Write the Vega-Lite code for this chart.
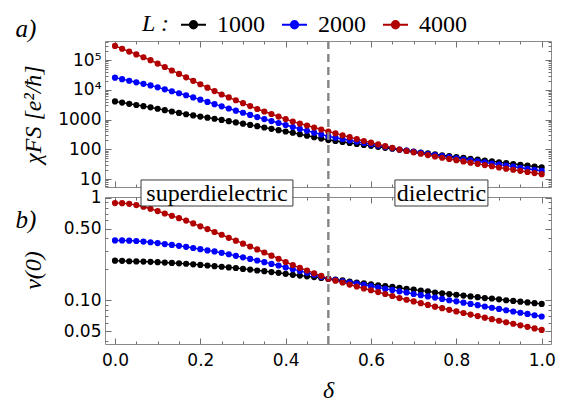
{
"$schema": "https://vega.github.io/schema/vega-lite/v6.json",
"padding": {"left": 15, "top": 11, "right": 6, "bottom": 2},
"spacing": 10,
"bounds": "flush",
"background": "white",
"config": {
  "view": {"stroke": "#8a8a8a", "strokeWidth": 1},
  "axis": {"domain": false, "grid": false, "tickColor": "#707070", "tickWidth": 1, "labelFont": "DejaVu Sans", "labelFontSize": 17, "labelColor": "#000000", "labelFlush": false, "labelOverlap": false, "labelBound": false, "titleFont": "Liberation Serif", "titleFontStyle": "italic", "titleFontWeight": "normal", "titleFontSize": 24, "titleColor": "#000000"}
},
"datasets": {"d": [
{"x":0,"L":"1000","chi":4083,"nu":0.243},
{"x":0.0167,"L":"1000","chi":3724,"nu":0.242},
{"x":0.0333,"L":"1000","chi":3396,"nu":0.240},
{"x":0.05,"L":"1000","chi":3097,"nu":0.239},
{"x":0.0667,"L":"1000","chi":2825,"nu":0.238},
{"x":0.0833,"L":"1000","chi":2576,"nu":0.237},
{"x":0.1,"L":"1000","chi":2312,"nu":0.235},
{"x":0.1167,"L":"1000","chi":2080,"nu":0.233},
{"x":0.1333,"L":"1000","chi":1866,"nu":0.231},
{"x":0.15,"L":"1000","chi":1679,"nu":0.229},
{"x":0.1667,"L":"1000","chi":1507,"nu":0.227},
{"x":0.1833,"L":"1000","chi":1380,"nu":0.224},
{"x":0.2,"L":"1000","chi":1265,"nu":0.221},
{"x":0.2167,"L":"1000","chi":1161,"nu":0.218},
{"x":0.2333,"L":"1000","chi":1064,"nu":0.215},
{"x":0.25,"L":"1000","chi":975,"nu":0.212},
{"x":0.2667,"L":"1000","chi":885,"nu":0.209},
{"x":0.2833,"L":"1000","chi":804,"nu":0.206},
{"x":0.3,"L":"1000","chi":728,"nu":0.202},
{"x":0.3167,"L":"1000","chi":661,"nu":0.199},
{"x":0.3333,"L":"1000","chi":600,"nu":0.195},
{"x":0.35,"L":"1000","chi":542,"nu":0.192},
{"x":0.3667,"L":"1000","chi":489,"nu":0.188},
{"x":0.3833,"L":"1000","chi":442,"nu":0.185},
{"x":0.4,"L":"1000","chi":398,"nu":0.181},
{"x":0.4167,"L":"1000","chi":360,"nu":0.177},
{"x":0.4333,"L":"1000","chi":321,"nu":0.174},
{"x":0.45,"L":"1000","chi":287,"nu":0.171},
{"x":0.4667,"L":"1000","chi":256,"nu":0.168},
{"x":0.4833,"L":"1000","chi":229,"nu":0.165},
{"x":0.5,"L":"1000","chi":205,"nu":0.162},
{"x":0.5167,"L":"1000","chi":190,"nu":0.159},
{"x":0.5333,"L":"1000","chi":176,"nu":0.156},
{"x":0.55,"L":"1000","chi":164,"nu":0.152},
{"x":0.5667,"L":"1000","chi":152,"nu":0.149},
{"x":0.5833,"L":"1000","chi":141,"nu":0.146},
{"x":0.6,"L":"1000","chi":131,"nu":0.143},
{"x":0.6167,"L":"1000","chi":121,"nu":0.140},
{"x":0.6333,"L":"1000","chi":112.5,"nu":0.137},
{"x":0.65,"L":"1000","chi":104.5,"nu":0.135},
{"x":0.6667,"L":"1000","chi":96.8,"nu":0.132},
{"x":0.6833,"L":"1000","chi":90.2,"nu":0.129},
{"x":0.7,"L":"1000","chi":83.9,"nu":0.127},
{"x":0.7167,"L":"1000","chi":78.0,"nu":0.124},
{"x":0.7333,"L":"1000","chi":72.6,"nu":0.122},
{"x":0.75,"L":"1000","chi":67.6,"nu":0.119},
{"x":0.7667,"L":"1000","chi":63.1,"nu":0.117},
{"x":0.7833,"L":"1000","chi":58.9,"nu":0.115},
{"x":0.8,"L":"1000","chi":55.0,"nu":0.113},
{"x":0.8167,"L":"1000","chi":51.3,"nu":0.111},
{"x":0.8333,"L":"1000","chi":47.9,"nu":0.109},
{"x":0.85,"L":"1000","chi":44.8,"nu":0.107},
{"x":0.8667,"L":"1000","chi":41.9,"nu":0.105},
{"x":0.8833,"L":"1000","chi":39.2,"nu":0.104},
{"x":0.9,"L":"1000","chi":36.6,"nu":0.102},
{"x":0.9167,"L":"1000","chi":34.3,"nu":0.100},
{"x":0.9333,"L":"1000","chi":32.1,"nu":0.0984},
{"x":0.95,"L":"1000","chi":30.1,"nu":0.0968},
{"x":0.9667,"L":"1000","chi":28.2,"nu":0.0951},
{"x":0.9833,"L":"1000","chi":26.4,"nu":0.0935},
{"x":1,"L":"1000","chi":24.8,"nu":0.0920},
{"x":0,"L":"2000","chi":25770,"nu":0.383},
{"x":0.0167,"L":"2000","chi":22860,"nu":0.383},
{"x":0.0333,"L":"2000","chi":20280,"nu":0.381},
{"x":0.05,"L":"2000","chi":17950,"nu":0.378},
{"x":0.0667,"L":"2000","chi":15920,"nu":0.373},
{"x":0.0833,"L":"2000","chi":14130,"nu":0.368},
{"x":0.1,"L":"2000","chi":12130,"nu":0.361},
{"x":0.1167,"L":"2000","chi":10420,"nu":0.353},
{"x":0.1333,"L":"2000","chi":8954,"nu":0.346},
{"x":0.15,"L":"2000","chi":7691,"nu":0.339},
{"x":0.1667,"L":"2000","chi":6607,"nu":0.332},
{"x":0.1833,"L":"2000","chi":5559,"nu":0.323},
{"x":0.2,"L":"2000","chi":4677,"nu":0.315},
{"x":0.2167,"L":"2000","chi":3936,"nu":0.306},
{"x":0.2333,"L":"2000","chi":3311,"nu":0.299},
{"x":0.25,"L":"2000","chi":2786,"nu":0.290},
{"x":0.2667,"L":"2000","chi":2360,"nu":0.281},
{"x":0.2833,"L":"2000","chi":2000,"nu":0.271},
{"x":0.3,"L":"2000","chi":1694,"nu":0.262},
{"x":0.3167,"L":"2000","chi":1436,"nu":0.253},
{"x":0.3333,"L":"2000","chi":1216,"nu":0.244},
{"x":0.35,"L":"2000","chi":1042,"nu":0.235},
{"x":0.3667,"L":"2000","chi":893,"nu":0.226},
{"x":0.3833,"L":"2000","chi":766,"nu":0.218},
{"x":0.4,"L":"2000","chi":656,"nu":0.209},
{"x":0.4167,"L":"2000","chi":562,"nu":0.201},
{"x":0.4333,"L":"2000","chi":486,"nu":0.193},
{"x":0.45,"L":"2000","chi":421,"nu":0.185},
{"x":0.4667,"L":"2000","chi":364,"nu":0.177},
{"x":0.4833,"L":"2000","chi":315,"nu":0.169},
{"x":0.5,"L":"2000","chi":272,"nu":0.162},
{"x":0.5167,"L":"2000","chi":246,"nu":0.158},
{"x":0.5333,"L":"2000","chi":222,"nu":0.153},
{"x":0.55,"L":"2000","chi":201,"nu":0.149},
{"x":0.5667,"L":"2000","chi":182,"nu":0.145},
{"x":0.5833,"L":"2000","chi":164,"nu":0.141},
{"x":0.6,"L":"2000","chi":148,"nu":0.137},
{"x":0.6167,"L":"2000","chi":134,"nu":0.133},
{"x":0.6333,"L":"2000","chi":121,"nu":0.129},
{"x":0.65,"L":"2000","chi":109.4,"nu":0.126},
{"x":0.6667,"L":"2000","chi":98.9,"nu":0.122},
{"x":0.6833,"L":"2000","chi":90.2,"nu":0.119},
{"x":0.7,"L":"2000","chi":82.0,"nu":0.115},
{"x":0.7167,"L":"2000","chi":75.5,"nu":0.112},
{"x":0.7333,"L":"2000","chi":69.7,"nu":0.109},
{"x":0.75,"L":"2000","chi":64.1,"nu":0.106},
{"x":0.7667,"L":"2000","chi":59.2,"nu":0.103},
{"x":0.7833,"L":"2000","chi":54.5,"nu":0.100},
{"x":0.8,"L":"2000","chi":50.2,"nu":0.0975},
{"x":0.8167,"L":"2000","chi":46.2,"nu":0.0946},
{"x":0.8333,"L":"2000","chi":42.7,"nu":0.0920},
{"x":0.85,"L":"2000","chi":39.3,"nu":0.0895},
{"x":0.8667,"L":"2000","chi":36.2,"nu":0.0869},
{"x":0.8833,"L":"2000","chi":33.3,"nu":0.0845},
{"x":0.9,"L":"2000","chi":30.8,"nu":0.0822},
{"x":0.9167,"L":"2000","chi":28.3,"nu":0.0798},
{"x":0.9333,"L":"2000","chi":26.1,"nu":0.0776},
{"x":0.95,"L":"2000","chi":24.0,"nu":0.0755},
{"x":0.9667,"L":"2000","chi":22.2,"nu":0.0735},
{"x":0.9833,"L":"2000","chi":20.4,"nu":0.0713},
{"x":1,"L":"2000","chi":18.8,"nu":0.0693},
{"x":0,"L":"4000","chi":300600,"nu":0.887},
{"x":0.0167,"L":"4000","chi":241000,"nu":0.885},
{"x":0.0333,"L":"4000","chi":193600,"nu":0.871},
{"x":0.05,"L":"4000","chi":155200,"nu":0.847},
{"x":0.0667,"L":"4000","chi":124700,"nu":0.817},
{"x":0.0833,"L":"4000","chi":100000,"nu":0.780},
{"x":0.1,"L":"4000","chi":76560,"nu":0.740},
{"x":0.1167,"L":"4000","chi":58610,"nu":0.701},
{"x":0.1333,"L":"4000","chi":44870,"nu":0.665},
{"x":0.15,"L":"4000","chi":34360,"nu":0.631},
{"x":0.1667,"L":"4000","chi":26300,"nu":0.598},
{"x":0.1833,"L":"4000","chi":20180,"nu":0.561},
{"x":0.2,"L":"4000","chi":15450,"nu":0.526},
{"x":0.2167,"L":"4000","chi":11860,"nu":0.494},
{"x":0.2333,"L":"4000","chi":9100,"nu":0.463},
{"x":0.25,"L":"4000","chi":6982,"nu":0.435},
{"x":0.2667,"L":"4000","chi":5572,"nu":0.406},
{"x":0.2833,"L":"4000","chi":4457,"nu":0.381},
{"x":0.3,"L":"4000","chi":3556,"nu":0.356},
{"x":0.3167,"L":"4000","chi":2844,"nu":0.334},
{"x":0.3333,"L":"4000","chi":2270,"nu":0.313},
{"x":0.35,"L":"4000","chi":1866,"nu":0.292},
{"x":0.3667,"L":"4000","chi":1538,"nu":0.272},
{"x":0.3833,"L":"4000","chi":1265,"nu":0.254},
{"x":0.4,"L":"4000","chi":1042,"nu":0.236},
{"x":0.4167,"L":"4000","chi":857,"nu":0.220},
{"x":0.4333,"L":"4000","chi":735,"nu":0.207},
{"x":0.45,"L":"4000","chi":631,"nu":0.195},
{"x":0.4667,"L":"4000","chi":541,"nu":0.183},
{"x":0.4833,"L":"4000","chi":465,"nu":0.173},
{"x":0.5,"L":"4000","chi":398,"nu":0.162},
{"x":0.5167,"L":"4000","chi":344,"nu":0.155},
{"x":0.5333,"L":"4000","chi":296,"nu":0.149},
{"x":0.55,"L":"4000","chi":256,"nu":0.142},
{"x":0.5667,"L":"4000","chi":221,"nu":0.136},
{"x":0.5833,"L":"4000","chi":191,"nu":0.130},
{"x":0.6,"L":"4000","chi":167,"nu":0.125},
{"x":0.6167,"L":"4000","chi":146,"nu":0.120},
{"x":0.6333,"L":"4000","chi":128,"nu":0.115},
{"x":0.65,"L":"4000","chi":112,"nu":0.110},
{"x":0.6667,"L":"4000","chi":97.7,"nu":0.105},
{"x":0.6833,"L":"4000","chi":87.9,"nu":0.101},
{"x":0.7,"L":"4000","chi":79.1,"nu":0.0973},
{"x":0.7167,"L":"4000","chi":71.1,"nu":0.0935},
{"x":0.7333,"L":"4000","chi":64.0,"nu":0.0899},
{"x":0.75,"L":"4000","chi":57.5,"nu":0.0865},
{"x":0.7667,"L":"4000","chi":52.2,"nu":0.0836},
{"x":0.7833,"L":"4000","chi":47.4,"nu":0.0805},
{"x":0.8,"L":"4000","chi":43.1,"nu":0.0778},
{"x":0.8167,"L":"4000","chi":39.1,"nu":0.0750},
{"x":0.8333,"L":"4000","chi":35.5,"nu":0.0724},
{"x":0.85,"L":"4000","chi":32.4,"nu":0.0700},
{"x":0.8667,"L":"4000","chi":29.5,"nu":0.0676},
{"x":0.8833,"L":"4000","chi":26.9,"nu":0.0653},
{"x":0.9,"L":"4000","chi":24.5,"nu":0.0631},
{"x":0.9167,"L":"4000","chi":22.4,"nu":0.0610},
{"x":0.9333,"L":"4000","chi":20.6,"nu":0.0589},
{"x":0.95,"L":"4000","chi":18.9,"nu":0.0569},
{"x":0.9667,"L":"4000","chi":17.3,"nu":0.0550},
{"x":0.9833,"L":"4000","chi":15.9,"nu":0.0531},
{"x":1,"L":"4000","chi":14.6,"nu":0.0513}
]},
"vconcat": [
{
  "width": 446, "height": 146,
  "resolve": {"axis": {"x": "independent", "y": "independent"}},
  "layer": [
    {"data": {"name": "d"},
     "mark": {"type": "line", "strokeWidth": 1.4},
     "encoding": {
       "x": {"field": "x", "type": "quantitative", "scale": {"domain": [-0.0234, 1.0218], "nice": false, "zero": false}, "axis": {"orient": "bottom", "values": [0,0.2,0.4,0.6,0.8,1], "labels": false, "tickSize": -6, "title": null}},
       "y": {"field": "chi", "type": "quantitative", "scale": {"type": "log", "domain": [5.4, 440000], "nice": false}, "axis": {"orient": "left", "values": [10,100,1000,10000,100000], "tickSize": -6, "labelPadding": 10, "labelExpr": "datum.value == 100000 ? '10⁵' : datum.value == 10000 ? '10⁴' : format(datum.value, 'd')", "title": "χFS [e²/ħ]", "titleX": -72, "titleY": 73, "titleAngle": -90, "titleAlign": "center", "titleBaseline": "middle"}},
       "color": {"field": "L", "type": "nominal", "scale": {"domain": ["1000","2000","4000"], "range": ["#000000","#0000ff","#b00000"]}, "legend": {"orient": "none", "legendX": 37, "legendY": -30, "direction": "horizontal", "title": "L :", "titleOrient": "left", "titleFont": "Liberation Serif", "titleFontStyle": "italic", "titleFontWeight": "normal", "titleFontSize": 24, "titleColor": "#000000", "titlePadding": 10, "labelFont": "Liberation Serif", "labelFontSize": 24, "labelColor": "#000000", "labelOffset": 10, "columnPadding": 13, "symbolType": "M-1,0H1M0.3,0A0.3,0.3,0,1,1,-0.3,0A0.3,0.3,0,1,1,0.3,0M0.2,0A0.2,0.2,0,1,1,-0.2,0A0.2,0.2,0,1,1,0.2,0M0.1,0A0.1,0.1,0,1,1,-0.1,0A0.1,0.1,0,1,1,0.1,0", "symbolSize": 625, "symbolStrokeWidth": 1.8, "symbolOpacity": 1}}
     }},
    {"data": {"name": "d"},
     "mark": {"type": "point", "filled": true, "size": 38, "opacity": 1},
     "encoding": {
       "x": {"field": "x", "type": "quantitative", "axis": {"orient": "bottom", "values": [0.05,0.1,0.15,0.25,0.3,0.35,0.45,0.5,0.55,0.65,0.7,0.75,0.85,0.9,0.95], "labels": false, "tickSize": -3, "title": null}},
       "y": {"field": "chi", "type": "quantitative", "axis": {"orient": "left", "values": [6,7,8,9,20,30,40,50,60,70,80,90,200,300,400,500,600,700,800,900,2000,3000,4000,5000,6000,7000,8000,9000,20000,30000,40000,50000,60000,70000,80000,90000,200000,300000,400000], "labels": false, "tickSize": -3, "title": null}},
       "color": {"field": "L", "type": "nominal", "legend": null}
     }},
    {"data": {"name": "d"},
     "mark": {"type": "point", "opacity": 0},
     "encoding": {
       "x": {"field": "x", "type": "quantitative", "axis": {"orient": "top", "values": [0,0.2,0.4,0.6,0.8,1], "labels": false, "tickSize": -6, "title": null}},
       "y": {"field": "chi", "type": "quantitative", "axis": {"orient": "right", "values": [10,100,1000,10000,100000], "labels": false, "tickSize": -6, "title": null}}
     }},
    {"data": {"name": "d"},
     "mark": {"type": "point", "opacity": 0},
     "encoding": {
       "x": {"field": "x", "type": "quantitative", "axis": {"orient": "top", "values": [0.05,0.1,0.15,0.25,0.3,0.35,0.45,0.5,0.55,0.65,0.7,0.75,0.85,0.9,0.95], "labels": false, "tickSize": -3, "title": null}},
       "y": {"field": "chi", "type": "quantitative", "axis": {"orient": "right", "values": [6,7,8,9,20,30,40,50,60,70,80,90,200,300,400,500,600,700,800,900,2000,3000,4000,5000,6000,7000,8000,9000,20000,30000,40000,50000,60000,70000,80000,90000,200000,300000,400000], "labels": false, "tickSize": -3, "title": null}}
     }},
    {"data": {"values": [{"k": 1}]},
     "mark": {"type": "rule", "strokeDash": [8, 5], "strokeWidth": 2.4, "color": "#858585"},
     "encoding": {"x": {"datum": 0.5, "type": "quantitative", "axis": null}}},
    {"data": {"values": [{"t": "a)"}]},
     "mark": {"type": "text", "font": "Liberation Serif", "fontStyle": "italic", "fontSize": 25, "align": "center", "baseline": "middle", "color": "#000000"},
     "encoding": {"x": {"datum": -0.2086, "type": "quantitative", "axis": null}, "y": {"datum": 1110000, "type": "quantitative", "axis": null}, "text": {"field": "t"}}}
  ]
},
{
  "width": 446, "height": 147,
  "resolve": {"axis": {"x": "independent", "y": "independent"}},
  "layer": [
    {"data": {"name": "d"},
     "mark": {"type": "line", "strokeWidth": 1.4},
     "encoding": {
       "x": {"field": "x", "type": "quantitative", "scale": {"domain": [-0.0234, 1.0218], "nice": false, "zero": false}, "axis": {"orient": "bottom", "values": [0,0.2,0.4,0.6,0.8,1], "format": ".1f", "tickSize": -6, "labelPadding": 14, "title": "δ", "titleX": 223, "titleY": 46, "titleAlign": "center", "titleBaseline": "middle"}},
       "y": {"field": "nu", "type": "quantitative", "scale": {"type": "log", "domain": [0.0374, 1.016], "nice": false}, "axis": {"orient": "left", "values": [0.05,0.1,0.5,1], "tickSize": -6, "labelPadding": 10, "labelExpr": "datum.value == 1 ? '1' : format(datum.value, '.2f')", "title": "ν(0)", "titleX": -72, "titleY": 73, "titleAngle": -90, "titleAlign": "center", "titleBaseline": "middle"}},
       "color": {"field": "L", "type": "nominal", "legend": null}
     }},
    {"data": {"name": "d"},
     "mark": {"type": "point", "filled": true, "size": 38, "opacity": 1},
     "encoding": {
       "x": {"field": "x", "type": "quantitative", "axis": {"orient": "bottom", "values": [0.05,0.1,0.15,0.25,0.3,0.35,0.45,0.5,0.55,0.65,0.7,0.75,0.85,0.9,0.95], "labels": false, "tickSize": -3, "title": null}},
       "y": {"field": "nu", "type": "quantitative", "axis": {"orient": "left", "values": [0.04,0.06,0.07,0.08,0.09,0.2,0.3,0.4,0.6,0.7,0.8,0.9], "labels": false, "tickSize": -3, "title": null}},
       "color": {"field": "L", "type": "nominal", "legend": null}
     }},
    {"data": {"name": "d"},
     "mark": {"type": "point", "opacity": 0},
     "encoding": {
       "x": {"field": "x", "type": "quantitative", "axis": {"orient": "top", "values": [0,0.2,0.4,0.6,0.8,1], "labels": false, "tickSize": -6, "title": null}},
       "y": {"field": "nu", "type": "quantitative", "axis": {"orient": "right", "values": [0.05,0.1,0.5,1], "labels": false, "tickSize": -6, "title": null}}
     }},
    {"data": {"name": "d"},
     "mark": {"type": "point", "opacity": 0},
     "encoding": {
       "x": {"field": "x", "type": "quantitative", "axis": {"orient": "top", "values": [0.05,0.1,0.15,0.25,0.3,0.35,0.45,0.5,0.55,0.65,0.7,0.75,0.85,0.9,0.95], "labels": false, "tickSize": -3, "title": null}},
       "y": {"field": "nu", "type": "quantitative", "axis": {"orient": "right", "values": [0.04,0.06,0.07,0.08,0.09,0.2,0.3,0.4,0.6,0.7,0.8,0.9], "labels": false, "tickSize": -3, "title": null}}
     }},
    {"data": {"values": [{"k": 1}]},
     "mark": {"type": "rule", "strokeDash": [8, 5], "strokeWidth": 2.4, "color": "#858585"},
     "encoding": {"x": {"datum": 0.5, "type": "quantitative", "axis": null}, "y": {"datum": 0.0374, "type": "quantitative", "axis": null}, "y2": {"datum": 1.272}}},
    {"data": {"values": [{"t": "superdielectric"}]},
     "mark": {"type": "rect", "fill": "#ffffff", "stroke": "#3a3a3a", "strokeWidth": 1},
     "encoding": {"x": {"datum": 0.061, "type": "quantitative", "axis": null}, "x2": {"datum": 0.417}, "y": {"datum": 0.83, "type": "quantitative", "axis": null}, "y2": {"datum": 1.489}}},
    {"data": {"values": [{"t": "dielectric"}]},
     "mark": {"type": "rect", "fill": "#ffffff", "stroke": "#3a3a3a", "strokeWidth": 1},
     "encoding": {"x": {"datum": 0.656, "type": "quantitative", "axis": null}, "x2": {"datum": 0.874}, "y": {"datum": 0.83, "type": "quantitative", "axis": null}, "y2": {"datum": 1.489}}},
    {"data": {"values": [{"t": "superdielectric"}]},
     "mark": {"type": "text", "font": "Liberation Serif", "fontSize": 24, "align": "center", "baseline": "middle", "color": "#000000"},
     "encoding": {"x": {"datum": 0.239, "type": "quantitative", "axis": null}, "y": {"datum": 1.099, "type": "quantitative", "axis": null}, "text": {"field": "t"}}},
    {"data": {"values": [{"t": "dielectric"}]},
     "mark": {"type": "text", "font": "Liberation Serif", "fontSize": 24, "align": "center", "baseline": "middle", "color": "#000000"},
     "encoding": {"x": {"datum": 0.765, "type": "quantitative", "axis": null}, "y": {"datum": 1.099, "type": "quantitative", "axis": null}, "text": {"field": "t"}}},
    {"data": {"values": [{"t": "b)"}]},
     "mark": {"type": "text", "font": "Liberation Serif", "fontStyle": "italic", "fontSize": 25, "align": "center", "baseline": "middle", "color": "#000000"},
     "encoding": {"x": {"datum": -0.2086, "type": "quantitative", "axis": null}, "y": {"datum": 0.606, "type": "quantitative", "axis": null}, "text": {"field": "t"}}}
  ]
}
]
}
